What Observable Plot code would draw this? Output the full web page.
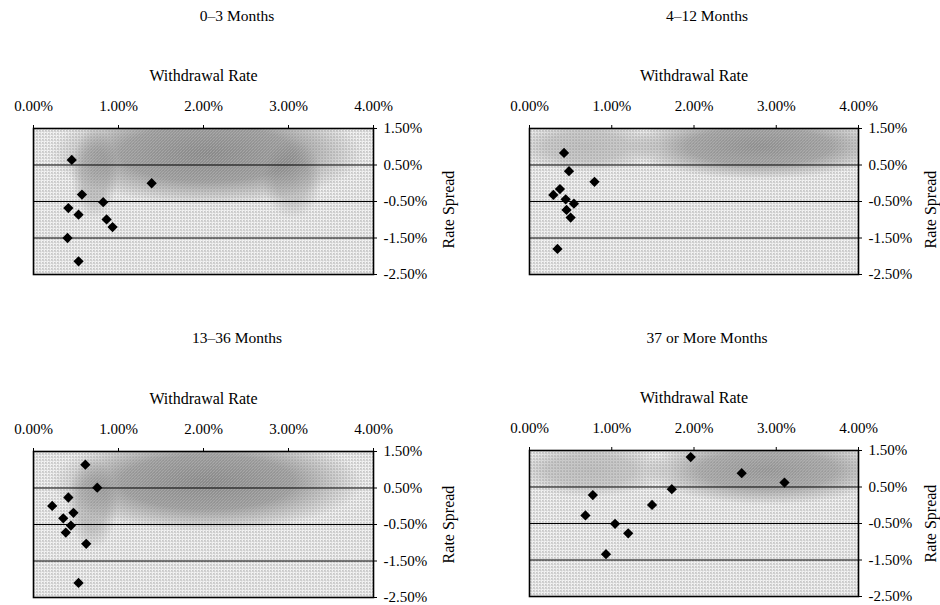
<!DOCTYPE html>
<html><head><meta charset="utf-8">
<script src="https://cdn.jsdelivr.net/npm/d3@7"></script>
<script src="https://cdn.jsdelivr.net/npm/@observablehq/plot@0.6"></script>
<style>
body{margin:0;background:#fff;}
#wrap{position:relative;width:940px;height:605px;overflow:hidden;font-family:"Liberation Serif","DejaVu Serif",serif;color:#000;}
.title{position:absolute;font-size:15.5px;transform:translateX(-50%);white-space:nowrap;line-height:16px;}
.panel{position:absolute;}
</style></head><body>
<svg width="0" height="0" style="position:absolute">
<defs>
<pattern id="stipple" width="3" height="3" patternUnits="userSpaceOnUse">
 <rect x="0" y="0" width="1" height="1" fill="#7a7a7a"/>
 <rect x="1" y="1" width="1" height="1" fill="#bcbcbc"/>
 <rect x="2" y="0" width="1" height="1" fill="#d0d0d0"/>
 <rect x="0" y="2" width="1" height="1" fill="#d4d4d4"/>
</pattern>
<radialGradient id="cloud">
 <stop offset="0" stop-color="#444" stop-opacity="1"/>
 <stop offset="0.55" stop-color="#444" stop-opacity="0.8"/>
 <stop offset="1" stop-color="#444" stop-opacity="0"/>
</radialGradient>
</defs></svg>
<div id="wrap"></div>
<script>
// ---- data (percent units) ----
const titles = ["0–3 Months", "4–12 Months", "13–36 Months", "37 or More Months"];
const xTicks = [0, 1, 2, 3, 4];
const yTicks = [1.5, 0.5, -0.5, -1.5, -2.5];
const gridY = [0.5, -0.5, -1.5];

const p1x = [0.45, 1.39, 0.57, 0.82, 0.41, 0.53, 0.86, 0.93, 0.40, 0.53];
const p1y = [0.64, 0.00, -0.31, -0.52, -0.68, -0.86, -0.99, -1.20, -1.50, -2.14];
const p2x = [0.42, 0.48, 0.79, 0.37, 0.29, 0.44, 0.54, 0.45, 0.50, 0.34];
const p2y = [0.83, 0.33, 0.04, -0.16, -0.32, -0.44, -0.56, -0.73, -0.94, -1.80];
const p3x = [0.61, 0.75, 0.41, 0.22, 0.47, 0.35, 0.44, 0.38, 0.62, 0.53];
const p3y = [1.14, 0.51, 0.24, 0.01, -0.18, -0.33, -0.53, -0.72, -1.03, -2.10];
const p4x = [1.96, 2.58, 3.10, 1.73, 0.77, 1.49, 0.68, 1.04, 1.20, 0.93];
const p4y = [1.32, 0.88, 0.62, 0.44, 0.28, 0.01, -0.28, -0.51, -0.77, -1.34];

// background density clouds of the underlying population: [x1, x2, y1, y2, density]
const cloud1 = [[0.2, 3.9, -0.6, 2.2, 0.75], [0.45, 1.0, -1.0, 1.5, 0.4], [2.7, 3.4, -1.0, 1.2, 0.35]];
const cloud2 = [[1.2, 4.4, 0.1, 1.9, 0.7], [-0.2, 1.6, 0.3, 1.7, 0.35]];
const cloud3 = [[0.2, 3.9, -0.7, 2.0, 0.75], [0.4, 1.0, -1.2, 1.3, 0.4]];
const cloud4 = [[1.4, 4.4, 0.0, 1.9, 0.65], [-0.2, 1.7, 0.2, 1.7, 0.35]];

const FONT = '"Liberation Serif", "DejaVu Serif", serif';
const fmt = d => d.toFixed(2) + "%";
const toPts = (xs, ys) => xs.map((x, i) => ({x, y: ys[i]}));
const toClouds = cs => cs.map(([x1, x2, y1, y2, o]) => ({x1, x2, y1, y2, o}));

const layout = [
  {left: 0,   top: 40,  height: 250, ml: 33, mr: 97, rsDx: 75, rsDy: 8, tx: 237, ty: 8,   xs: p1x, ys: p1y, cl: cloud1},
  {left: 470, top: 40,  height: 250, ml: 59, mr: 82, rsDx: 72, rsDy: 8, tx: 707, ty: 8,   xs: p2x, ys: p2y, cl: cloud2},
  {left: 0,   top: 363, height: 242, ml: 33, mr: 97, rsDx: 75, rsDy: 0, tx: 237, ty: 330, xs: p3x, ys: p3y, cl: cloud3},
  {left: 470, top: 362, height: 243, ml: 59, mr: 82, rsDx: 72, rsDy: 0, tx: 707, ty: 330, xs: p4x, ys: p4y, cl: cloud4}
];

const wrap = document.getElementById("wrap");
layout.forEach((p, i) => {
  const t = document.createElement("div");
  t.className = "title";
  t.style.left = p.tx + "px";
  t.style.top = p.ty + "px";
  t.textContent = titles[i];
  wrap.appendChild(t);

  const svg = Plot.plot({
    width: 470, height: p.height,
    marginTop: 88, marginBottom: p.height - 88 - 146, marginLeft: p.ml, marginRight: p.mr,
    style: {fontFamily: FONT, fontSize: "15px", background: "transparent", color: "#000", overflow: "visible"},
    x: {domain: [0, 4]},
    y: {domain: [-2.5, 1.5]},
    marks: [
      Plot.rect(toClouds(p.cl), {x1: "x1", x2: "x2", y1: "y1", y2: "y2", fill: "url(#cloud)", fillOpacity: "o", clip: true}),
      Plot.frame({fill: "url(#stipple)", stroke: "none"}),
      Plot.ruleY(gridY, {stroke: "#000", strokeWidth: 1}),
      Plot.dot(toPts(p.xs, p.ys), {x: "x", y: "y", symbol: "square", r: 4.1, rotate: 45, fill: "#000", stroke: "none"}),
      Plot.frame({stroke: "#000", strokeWidth: 1.6}),
      Plot.axisX(xTicks, {anchor: "top", tickSize: 4, tickPadding: 14, tickFormat: fmt, label: null, fontSize: 15}),
      Plot.axisY(yTicks, {anchor: "right", tickSize: 3, tickPadding: 7, tickFormat: fmt, label: null, fontSize: 15}),
      Plot.text(["Withdrawal Rate"], {frameAnchor: "top", lineAnchor: "middle", textAnchor: "middle", dy: -53, text: d => d, fontSize: 16}),
      Plot.text(["Rate Spread"], {frameAnchor: "right", lineAnchor: "middle", textAnchor: "middle", dx: p.rsDx, dy: p.rsDy, rotate: -90, text: d => d, fontSize: 16})
    ]
  });
  svg.classList.add("panel");
  svg.style.left = p.left + "px";
  svg.style.top = p.top + "px";
  wrap.appendChild(svg);
});
</script>
</body></html>
